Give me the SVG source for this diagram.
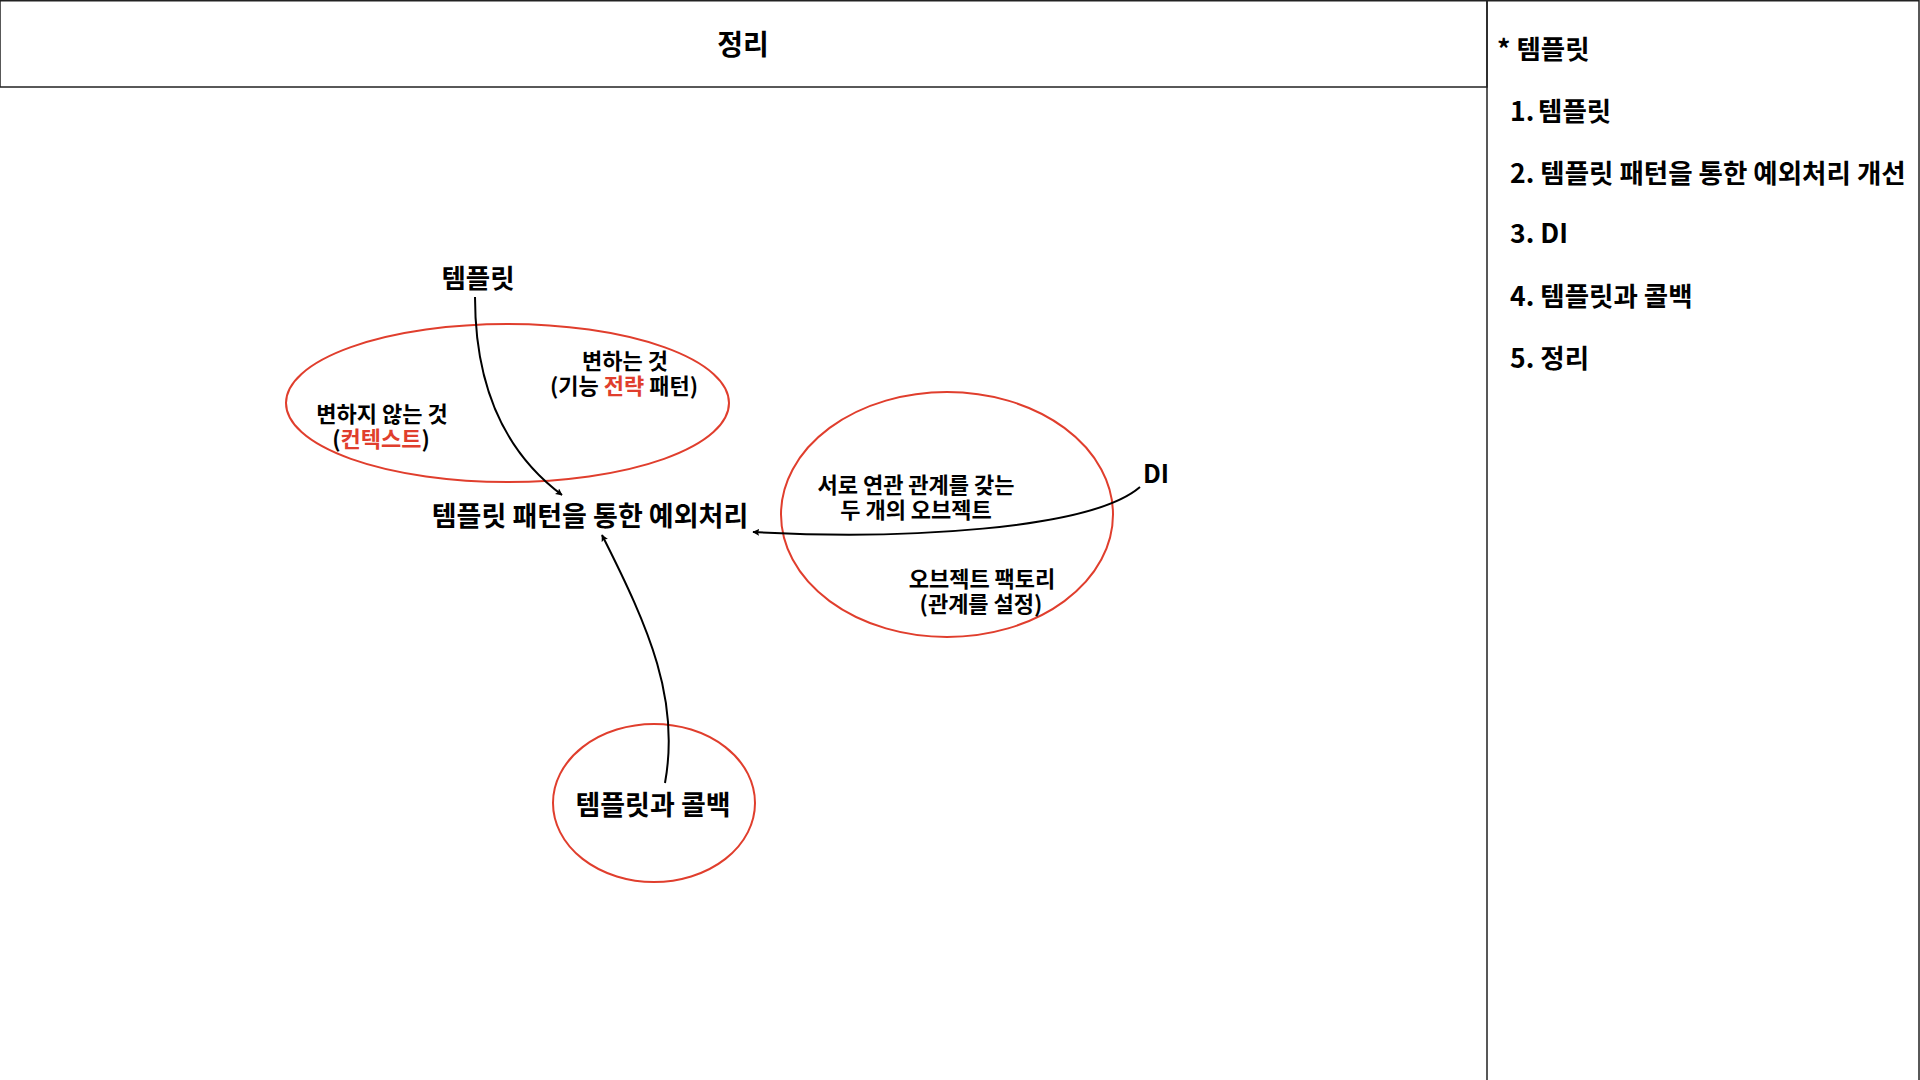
<svg xmlns="http://www.w3.org/2000/svg" width="1920" height="1080" viewBox="0 0 1920 1080">
<defs>
<style>
text{font-family:"Noto Sans CJK KR","Noto Sans",sans-serif;font-weight:700;fill:#000}
.c{text-anchor:middle}
.s{font-size:22px}
.m{font-size:26.5px}
.r{fill:#e03e2d}
.ell{fill:none;stroke:#e03e2d;stroke-width:2}
.frame{fill:none;stroke:#222;stroke-width:1.5}
.conn{fill:none;stroke:#000;stroke-width:2;marker-end:url(#ah)}
</style>
<marker id="ah" viewBox="0 0 10 10" refX="9" refY="5" markerWidth="7" markerHeight="7" orient="auto-start-reverse" markerUnits="userSpaceOnUse">
<path d="M0,0 L10,5 L0,10 L2,5 z" fill="#000"/>
</marker>
</defs>
<rect width="1920" height="1080" fill="#fff"/>
<g id="header">
<rect class="frame" x="0" y="0.75" width="1487" height="86.25"/>
<text class="c" x="743" y="55" style="font-size:28px">정리</text>
</g>
<g id="sidebar">
<rect class="frame" x="1487" y="0.75" width="432" height="1080"/>
<text x="1497" y="59" class="m">* 템플릿</text>
<text x="1510" y="121" class="m">1.<tspan x="1538">템플릿</tspan></text>
<text x="1510" y="183" class="m">2. 템플릿 패턴을 통한 예외처리 개선</text>
<text x="1510" y="243" class="m">3. DI</text>
<text x="1510" y="306" class="m">4. 템플릿과 콜백</text>
<text x="1510" y="368" class="m">5. 정리</text>
</g>
<g id="node-template">
<text class="c" x="478" y="288" style="font-size:26.5px">템플릿</text>
</g>
<g id="node-template-ellipse">
<ellipse class="ell" cx="507.5" cy="403" rx="221.5" ry="79"/>
<text class="c s" x="625" y="369">변하는 것</text>
<text class="c s" x="624" y="394">(기능 <tspan class="r">전략</tspan> 패턴)</text>
<text class="c s" x="382" y="422">변하지 않는 것</text>
<text class="c s" x="381" y="447">(<tspan class="r">컨텍스트</tspan>)</text>
</g>
<g id="node-exception">
<text class="c" x="590" y="526" style="font-size:27px">템플릿 패턴을 통한 예외처리</text>
</g>
<g id="node-di-ellipse">
<ellipse class="ell" cx="947" cy="514.5" rx="166" ry="122.5"/>
<text class="c s" x="916" y="493">서로 연관 관계를 갖는</text>
<text class="c s" x="916" y="518">두 개의 오브젝트</text>
<text class="c s" x="982" y="587">오브젝트 팩토리</text>
<text class="c s" x="981" y="612">(관계를 설정)</text>
</g>
<g id="node-di">
<text class="c" x="1156" y="483" style="font-size:25px">DI</text>
</g>
<g id="node-callback">
<ellipse class="ell" cx="654" cy="803" rx="101" ry="79"/>
<text class="c" x="653" y="815" style="font-size:27px">템플릿과 콜백</text>
</g>
<g id="connectors">
<path class="conn" d="M475,297 Q475,430 562,495"/>
<path class="conn" d="M1140,487 C1090,530 900,540 753,532"/>
<path class="conn" d="M665,783 C680,700 650,630 602,535"/>
</g>
</svg>
